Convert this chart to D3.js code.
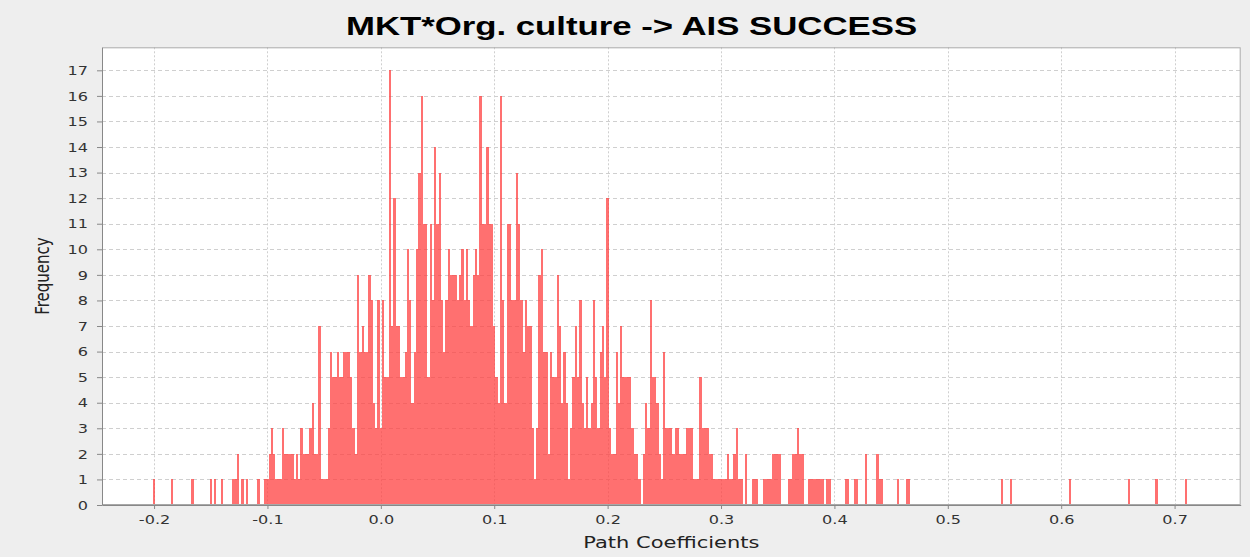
<!DOCTYPE html>
<html><head><meta charset="utf-8">
<script src="https://cdn.jsdelivr.net/npm/d3@7"></script>
<style>body{margin:0;background:#eeeeee;} svg{display:block;}</style>
</head><body><svg id="c" width="1250" height="557"></svg>
<script>
const title = "MKT*Org. culture -> AIS SUCCESS";
const xLabel = "Path Coefficients";
const yLabel = "Frequency";
// histogram bins: first bin left edge and width (path coefficient units)
const binStart = -0.201;
const binWidth = 0.002;
// frequency of each bin
const counts = [
1,0,0,0,0,0,0,0,1,0,
0,0,0,0,0,0,0,1,0,0,
0,0,0,0,0,1,0,1,0,0,
1,0,0,0,0,1,1,2,0,1,
0,1,0,0,0,0,1,0,0,1,
1,2,3,2,1,1,1,3,2,2,
2,2,1,2,1,3,2,2,2,3,
4,2,2,7,1,1,1,3,6,5,
5,6,5,5,6,6,6,5,3,2,
9,6,7,6,6,9,8,4,3,8,
3,8,5,5,17,7,12,7,7,5,
5,6,10,8,4,6,10,13,16,11,
11,5,11,8,14,11,13,8,6,8,
10,9,9,9,8,9,10,8,10,8,
7,9,10,9,16,11,11,14,11,11,
7,5,4,16,8,4,11,11,8,8,
13,11,8,6,8,7,7,3,1,3,
9,10,6,6,2,6,5,5,9,7,
4,6,4,1,3,5,7,5,8,4,
3,5,3,4,8,5,3,6,7,5,
12,3,2,2,6,4,7,5,5,5,
5,3,2,2,1,0,2,4,3,8,
5,5,4,2,1,6,3,3,3,2,
3,3,2,2,2,3,3,3,1,1,
1,5,3,3,3,2,2,1,1,1,
1,1,1,2,1,1,2,3,1,1,
0,2,0,0,1,1,1,0,0,1,
1,1,1,2,2,2,2,0,0,0,
1,1,2,2,3,2,2,0,0,1,
1,1,1,1,1,1,0,1,1,0,
0,0,0,0,0,1,1,0,0,1,
1,0,0,0,2,0,0,0,0,2,
1,1,0,0,0,0,0,0,1,0,
0,0,1,1,0,0,0,0,0,0,
0,0,0,0,0,0,0,0,0,0,
0,0,0,0,0,0,0,0,0,0,
0,0,0,0,0,0,0,0,0,0,
0,0,0,0,1,0,0,0,1,0,
0,0,0,0,0,0,0,0,0,0,
0,0,0,0,0,0,0,0,0,0,
0,0,0,0,1,0,0,0,0,0,
0,0,0,0,0,0,0,0,0,0,
0,0,0,0,0,0,0,0,0,0,
1,0,0,0,0,0,0,0,0,0,
0,0,1,0,0,0,0,0,0,0,
0,0,0,0,0,1
];
const xTicks = [-0.2,-0.1,0.0,0.1,0.2,0.3,0.4,0.5,0.6,0.7];
const yTicks = [0,1,2,3,4,5,6,7,8,9,10,11,12,13,14,15,16,17];

const SX = 1.4; // horizontal text stretch of the reference
const plot = {left:102, right:1240.7, top:47.3, bottom:505};
const svg = d3.select("#c");
const x = d3.scaleLinear().domain([-0.2459, 0.7583]).range([plot.left, plot.right]);
const y = d3.scaleLinear().domain([0, 17.9]).range([plot.bottom, plot.top]);

svg.append("rect").attr("x",0).attr("y",0).attr("width",1250).attr("height",557).attr("fill","#eeeeee");
svg.append("rect").attr("x",plot.left).attr("y",plot.top)
  .attr("width",plot.right-plot.left).attr("height",plot.bottom-plot.top)
  .attr("fill","#ffffff");

// gridlines
const grid = svg.append("g");
grid.selectAll("line.h").data(yTicks.filter(d=>d>0)).join("line")
  .attr("x1",plot.left).attr("x2",plot.right)
  .attr("y1",d=>Math.round(y(d))+0.5).attr("y2",d=>Math.round(y(d))+0.5)
  .attr("stroke","#cfcfcf").attr("stroke-width",1).attr("stroke-dasharray","4,3");
grid.selectAll("line.v").data(xTicks).join("line")
  .attr("y1",plot.top).attr("y2",plot.bottom)
  .attr("x1",d=>Math.round(x(d))+0.5).attr("x2",d=>Math.round(x(d))+0.5)
  .attr("stroke","#cfcfcf").attr("stroke-width",1).attr("stroke-dasharray","2,2");

// bars
const bins = counts.map((c,i)=>({x0: binStart + i*binWidth, x1: binStart + (i+1)*binWidth, c}))
  .filter(d=>d.c>0);
svg.append("g").attr("shape-rendering","crispEdges").selectAll("rect").data(bins).join("rect")
  .attr("x",d=>x(d.x0)).attr("width",d=>x(d.x1)-x(d.x0))
  .attr("y",d=>y(d.c)).attr("height",d=>y(0)-y(d.c))
  .attr("fill","rgb(255,62,62)").attr("fill-opacity",0.74);

// plot outline
svg.append("rect").attr("x",plot.left+0.5).attr("y",plot.top+0.5)
  .attr("width",plot.right-plot.left-1).attr("height",plot.bottom-plot.top-1)
  .attr("fill","none").attr("stroke","#a8a8a8").attr("stroke-width",1);

const tickFont = "'DejaVu Sans', sans-serif";
// x axis
const gx = svg.append("g").attr("transform",`translate(0,${plot.bottom})`)
  .call(d3.axisBottom(x).tickValues(xTicks).tickFormat(d=>d.toFixed(1)).tickSize(4).tickSizeOuter(0));
gx.select(".domain").attr("stroke","#888888");
gx.selectAll(".tick line").attr("stroke","#888888");
gx.selectAll(".tick text").attr("y",19).attr("dy",0)
  .attr("transform",`scale(${SX},1)`)
  .style("font-family",tickFont).style("font-size","11.5px").attr("fill","#333333");

// y axis
const gy = svg.append("g").attr("transform",`translate(${plot.left},0)`)
  .call(d3.axisLeft(y).tickValues(yTicks).tickFormat(d3.format("d")).tickSize(5).tickSizeOuter(0));
gy.select(".domain").attr("stroke","#888888");
gy.selectAll(".tick line").attr("stroke","#888888");
gy.selectAll(".tick text").attr("x",-14/SX).attr("dy","0.36em")
  .attr("transform",`scale(${SX},1)`)
  .style("font-family",tickFont).style("font-size","11.5px").attr("fill","#333333");

// title
svg.append("text").attr("transform",`translate(631.5,35) scale(1.39,1)`)
  .attr("text-anchor","middle")
  .style("font-family","'Liberation Sans', Arial, sans-serif").style("font-weight","bold").style("font-size","25px")
  .attr("fill","#000").text(title);

// axis labels
svg.append("text").attr("transform",`translate(${(plot.left+plot.right)/2},548) scale(${SX},1)`)
  .attr("text-anchor","middle")
  .style("font-family",tickFont).style("font-size","15px").attr("fill","#222").text(xLabel);
svg.append("text").attr("transform",`translate(48.5,${(plot.top+plot.bottom)/2}) scale(1.25,1) rotate(-90)`)
  .attr("text-anchor","middle")
  .style("font-family",tickFont).style("font-size","15px").attr("fill","#222").text(yLabel);
</script></body></html>
